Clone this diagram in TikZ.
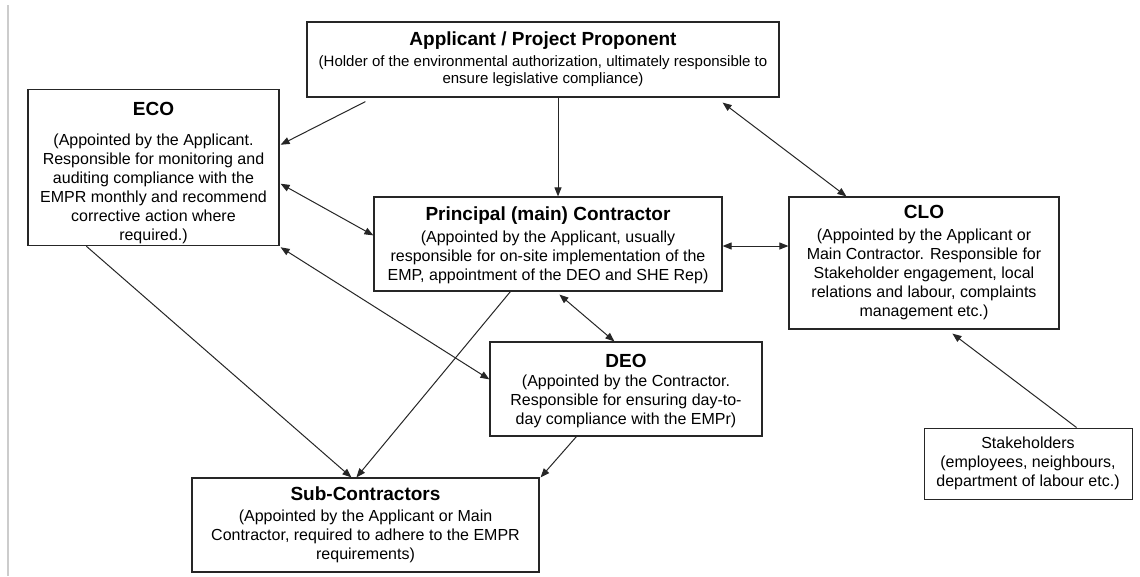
\documentclass[tikz,border=0pt]{standalone}
\usepackage{fontspec}
\setmainfont{Liberation Sans}
\usetikzlibrary{arrows.meta,calc}
\newcommand{\ttl}[1]{{\fontsize{19}{22}\selectfont\bfseries #1}}
\begin{document}
\begin{tikzpicture}[x=1pt,y=-1pt,
  box/.style={draw=black!85, line width=1.2pt, fill=white, align=center, inner sep=2pt,
    font=\fontsize{16}{19}\selectfont},
  arr/.style={line width=1pt, draw=black!85, -{Triangle[length=9pt,width=7pt]}},
  arrb/.style={line width=1pt, draw=black!85, {Triangle[length=9pt,width=7pt]}-{Triangle[length=9pt,width=7pt]}}]
\useasboundingbox (0,0) rectangle (1140,576);
\fill[white] (0,0) rectangle (1140,576);
\draw[black!20, line width=2pt] (7.5,5) -- (7.5,576);

\node[box, minimum width=472pt, minimum height=75pt, font=\fontsize{15}{17}\selectfont] (app) at (543,59.5)
  {\ttl{Applicant / Project Proponent}\\[4pt](Holder of the environmental authorization, ultimately responsible to\\ensure legislative compliance)};
\node[box, minimum width=251pt, minimum height=151pt] (eco) at (153.5,167.5)
  {\ttl{\rule{0pt}{24pt}ECO}\\[11pt](Appointed by the Applicant.\\Responsible for monitoring and\\auditing compliance with the\\EMPR monthly and recommend\\corrective action where\\required.)};
\node[box, minimum width=348pt, minimum height=94pt] (pc) at (548,244)
  {\ttl{\rule{0pt}{17pt}Principal (main) Contractor}\\[3pt](Appointed by the Applicant, usually\\responsible for on-site implementation of the\\EMP, appointment of the DEO and SHE Rep)};
\node[box, minimum width=270pt, minimum height=132pt] (clo) at (924,263)
  {\ttl{CLO}\\[3pt](Appointed by the Applicant or\\Main Contractor. Responsible for\\Stakeholder engagement, local\\relations and labour, complaints\\management etc.)};
\node[box, minimum width=272pt, minimum height=94pt] (deo) at (626,389)
  {\ttl{\rule{0pt}{17pt}DEO}\\(Appointed by the Contractor.\\Responsible for ensuring day-to-\\day compliance with the EMPr)};
\node[box, minimum width=347pt, minimum height=94pt] (sub) at (365.5,525)
  {\ttl{Sub-Contractors}\\[2pt](Appointed by the Applicant or Main\\Contractor, required to adhere to the EMPR\\requirements)};
\node[box, minimum width=208pt, minimum height=71pt, line width=1pt] (stk) at (1028,463.5)
  {Stakeholders\\(employees, neighbours,\\department of labour etc.)};

\draw[arr] ([shift={(59,4)}]app.south west) -- ([shift={(1,56)}]eco.north east);
\draw[arr] ([xshift=15pt]app.south) -- ([xshift=10pt]pc.north);
\draw[arrb] ([shift={(-57,5)}]app.south east) -- ([shift={(58,0)}]clo.north west);
\draw[arrb] ([shift={(1,95)}]eco.north east) -- ([shift={(0,39)}]pc.north west);
\draw[arrb] ($(pc.east)+(0,2)$) -- ($(pc.east -| clo.west)+(0,2)$);
\draw[arrb] ([shift={(1,1)}]eco.south east) -- ([shift={(0,38)}]deo.north west);
\draw[arrb] ([shift={(186,3)}]pc.south west) -- ([shift={(125,0)}]deo.north west);
\draw[arr] ([xshift=59pt]eco.south west) -- ([xshift=160pt]sub.north west);
\draw[arr] ([xshift=137pt]pc.south west) -- ([xshift=165pt]sub.north west);
\draw[arr] ([xshift=87pt]deo.south west) -- ([shift={(1,0)}]sub.north east);
\draw[arr] ([xshift=153pt]stk.north west) -- ([shift={(164,4)}]clo.south west);
\end{tikzpicture}
\end{document}
